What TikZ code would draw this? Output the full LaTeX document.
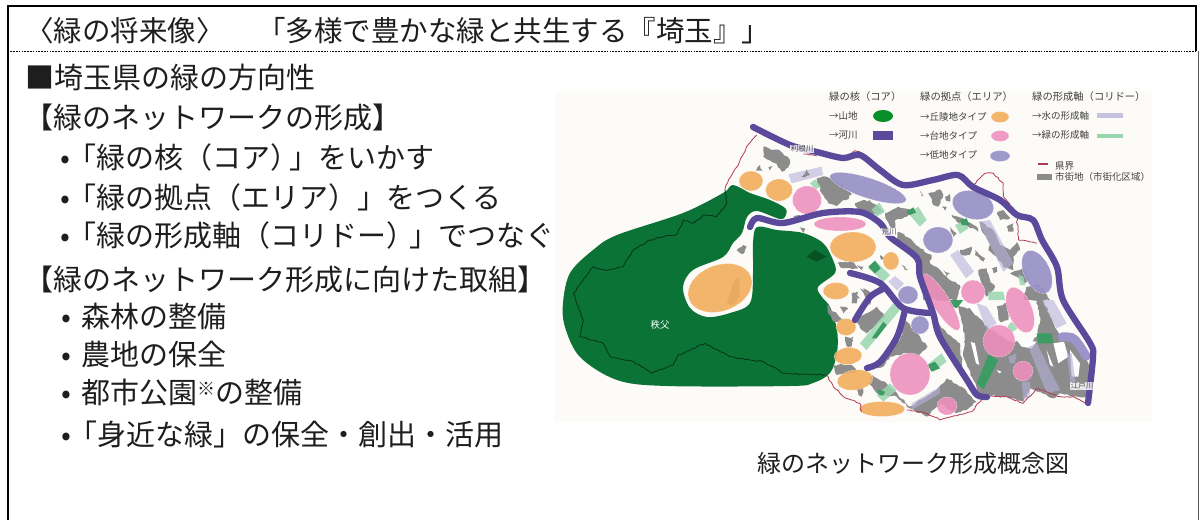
\documentclass[tikz,border=0pt]{standalone}
\usepackage{fontspec}
\usetikzlibrary{decorations.pathmorphing}
\setmainfont{Noto Sans CJK JP}
\definecolor{ink}{HTML}{1E1E1E}
\definecolor{forest}{HTML}{0B7335}
\definecolor{urban}{HTML}{8C8C8C}
\definecolor{riverc}{HTML}{5B4A9C}
\definecolor{orangea}{HTML}{F2AE5C}
\definecolor{pinka}{HTML}{EE8FBE}
\definecolor{lowa}{HTML}{9A94C8}
\definecolor{lav}{HTML}{B4B0DA}
\definecolor{lavs}{HTML}{C6C2E0}
\definecolor{grn}{HTML}{98D6AE}
\definecolor{dgrn}{HTML}{3D9C64}
\definecolor{redl}{HTML}{B23A55}
\definecolor{mapbg}{HTML}{FDFBF8}
\pgfmathsetseed{7}
\newcommand\pg[2]{\fill[#1] plot coordinates {#2} -- cycle;}
\newcommand\el[6]{\path[#1,rotate around={#6:(#2,#3)}] (#2,#3) ellipse [x radius=#4,y radius=#5];}
\tikzset{
  x=1pt,y=-1pt,
  body/.style={anchor=west,inner sep=0pt,text=ink,font=\fontsize{29}{32}\selectfont},
  bodytitle/.style={anchor=west,inner sep=0pt,text=ink,font=\fontsize{28.5}{32}\selectfont},
  captiontext/.style={anchor=center,inner sep=0pt,text=ink,font=\fontsize{24}{28}\selectfont},
  leg/.style={anchor=west,inner sep=0pt,text=ink!85,font=\fontsize{9.5}{11}\selectfont},
  leghead/.style={anchor=west,inner sep=0pt,text=ink!85,font=\fontsize{10.3}{12}\selectfont},
  rivername/.style={anchor=center,inner sep=.5pt,fill=white,fill opacity=.8,text opacity=1,text=ink!80,font=\fontsize{7.5}{8}\selectfont},
  river/.style={draw=riverc,line width=6.3pt,line cap=round,line join=round},
  wiggly/.style={decorate,decoration={random steps,segment length=3pt,amplitude=.7pt}},
  bord/.style={draw=redl,line width=.8pt,line join=round,wiggly},
  ridge/.style={draw=forest!45!black,line width=.8pt,line join=round,wiggly},
  edge/.style={draw=white,densely dotted,line width=.5pt},
  oarea/.style={fill=orangea,fill opacity=.9,edge},
  parea/.style={fill=pinka,fill opacity=.88,edge},
  larea/.style={fill=lowa,fill opacity=.95,edge},
  ug/.style={fill=urban,decorate,decoration={random steps,segment length=3pt,amplitude=1pt}},
  lv/.style={fill=lav,fill opacity=.6},
  gl/.style={fill=grn,fill opacity=.85},
  gd/.style={fill=dgrn},
  zone/.style={shift={(#1)},scale=.33333}
}
\begin{document}
\begin{tikzpicture}
\useasboundingbox (0,0) rectangle (1199,520);
\fill[white] (0,0) rectangle (1199,520);
% frame
\coordinate (fl) at (7.5,520); \coordinate (tl) at (7.5,6); \coordinate (tr) at (1196,6); \coordinate (mr) at (1196,51); \coordinate (ml) at (7.5,51); \coordinate (br) at (1198,520); \coordinate (mr2) at (1198,51);
\draw[black,line width=2pt] (fl) -- (tl) -- (tr) -- (mr);
\draw[black!65,line width=.8pt] (mr2) -- (br);
\draw[black,line width=1pt,dash pattern=on 1.6pt off 1.2pt] (ml) -- (mr);
% text
\node[bodytitle] (title1) at (25,31) {〈緑の将来像〉};
\node[bodytitle] (title2) at (257,31) {「多様で豊かな緑と共生する『埼玉』」};
\node[body] (t1) at (25,77) {■埼玉県の緑の方向性};
\node[body] (t2) at (24,117) {【緑のネットワークの形成】};
\node[body] (t3) at (65,157) {\makebox[0pt]{•}\hspace{2pt}「緑の核（コア）\hspace{-10pt}」をいかす};
\node[body] (t4) at (65,197) {\makebox[0pt]{•}\hspace{2pt}「緑の拠点（エリア）」をつくる};
\node[body] (t5) at (65,235) {\makebox[0pt]{•}\hspace{2pt}「緑の形成軸（コリドー）\hspace{-6pt}」でつなぐ};
\node[body] (t6) at (24,279) {【緑のネットワーク形成に向けた取組】};
\node[body] (t7) at (66,316) {\makebox[0pt]{•}\hspace{15pt}森林の整備};
\node[body] (t8) at (66,354) {\makebox[0pt]{•}\hspace{15pt}農地の保全};
\node[body] (t9) at (66,392) {\makebox[0pt]{•}\hspace{15pt}都市公園\raisebox{8pt}{\fontsize{18}{18}\selectfont ※}の整備};
\node[body] (t10) at (66,434) {\makebox[0pt]{•}\hspace{2pt}「身近な緑」の保全・創出・活用};
\node[captiontext] (caption) at (913,463) {緑のネットワーク形成概念図};
% map background
\fill[mapbg] (555,91) rectangle (1152,422);
% mountain core
\fill[forest] plot[smooth cycle,tension=.55] coordinates {(733,185)(750,193)(770,200)(785,208)(786,215)(780,219)(757,211)(747,217)(742,233)(733,243)(723,257)(693,270)(683,287)(690,308)(707,317)(730,313)(750,303)(753,273)(753,243)(757,227)(777,230)(803,233)(823,243)(833,260)(835,273)(818,287)(822,297)(830,307)(837,330)(837,353)(830,373)(813,383)(790,386)(667,386)(617,380)(580,357)(565,327)(563,303)(570,273)(593,250)(617,235)(683,213)(723,193)};
\begin{scope}[zone={550,240}]
\pg{forest!70!black}{(770,50)(795,30)(830,50)(800,65)}
\pg{ug}{(560,30)(580,15)(590,20)(578,42)}
\pg{ug}{(530,190)(550,130)(565,112)(570,170)(545,195)}
\pg{ug}{(860,70)(905,65)(925,85)(880,85)}
\pg{ug}{(830,195)(880,240)(850,245)(835,220)}
\pg{ug}{(905,160)(925,155)(920,190)(905,190)}
\pg{ug}{(930,145)(960,160)(960,195)(945,170)}
\pg{ug}{(885,295)(910,290)(905,320)(890,320)}
\pg{ug}{(850,375)(905,375)(920,395)(860,405)}
\pg{ug}{(920,445)(940,445)(935,470)(925,465)}
\end{scope}
% urban upper
\begin{scope}[zone={550,80}]
\pg{ug}{(640,200)(665,210)(690,212)(720,240)(715,262)(695,275)(675,250)(640,230)}
\pg{ug}{(618,272)(630,255)(638,272)}
\pg{ug}{(655,262)(668,258)(660,272)}
\pg{ug}{(800,295)(830,290)(870,310)(905,345)(880,355)(860,378)(835,370)(815,340)}
\pg{ug}{(915,375)(960,360)(960,390)(925,395)}
\pg{ug}{(730,410)(750,405)(745,420)}
\pg{ug}{(750,442)(765,445)(760,458)}
\end{scope}
\begin{scope}[zone={840,170}]
\pg{ug}{(0,50)(35,70)(20,90)(0,85)}
\pg{ug}{(45,100)(75,90)(110,105)(130,125)(100,135)(60,120)}
\pg{ug}{(135,130)(175,110)(215,120)(200,140)(165,150)(165,175)(150,170)(140,150)}
\pg{ug}{(265,70)(300,58)(310,75)(295,110)(280,105)(275,85)}
\pg{ug}{(315,80)(330,72)(330,95)(318,92)}
\pg{ug}{(240,62)(250,75)(245,80)}
\pg{ug}{(305,110)(320,112)(315,122)}
\pg{ug}{(335,135)(375,150)(410,170)(415,185)(385,170)(350,155)}
\pg{ug}{(470,130)(490,120)(510,145)(480,150)}
\pg{ug}{(500,170)(520,160)(520,185)(505,185)}
\pg{ug}{(330,170)(350,190)(340,200)}
\pg{ug}{(420,155)(460,180)(480,225)(510,240)(530,215)(540,240)(520,260)(520,300)(490,290)(470,260)(445,240)(450,225)(430,190)}
\pg{ug}{(360,240)(395,230)(390,255)(365,255)}
\pg{ug}{(405,240)(435,265)(430,275)(405,255)}
\pg{ug}{(415,300)(440,295)(450,330)(465,350)(440,380)(425,340)}
\pg{ug}{(455,295)(470,290)(472,305)(460,310)}
\pg{ug}{(510,310)(550,295)(570,325)(555,340)(530,320)}
\pg{ug}{(175,185)(210,205)(240,235)(275,255)(270,280)(300,300)(330,330)(360,345)(350,390)(250,390)(240,310)(225,270)(195,230)(170,210)}
\pg{ug}{(310,300)(330,310)(320,320)}
\pg{ug}{(120,255)(135,262)(125,270)}
\pg{ug}{(0,275)(40,280)(40,295)(0,290)}
\pg{ug}{(50,285)(70,290)(65,300)}
\pg{ug}{(185,285)(205,298)(195,300)}
\pg{ug}{(70,355)(95,370)(80,380)}
\pg{ug}{(40,365)(60,385)(40,385)}
\pg{ug}{(560,350)(600,345)(630,390)(550,390)}
\end{scope}
\begin{scope}[zone={840,300}]
% large urban mass
\pg{ug}{(355,15)(400,30)(425,60)(445,85)(520,130)(540,120)(560,140)(590,110)(600,70)(595,20)(590,0)(610,0)(640,70)(660,110)(700,100)(730,140)(745,190)(745,290)(700,290)(660,280)(640,295)(570,265)(550,305)(490,290)(420,285)(400,240)(370,170)(375,120)}
\pg{ug}{(470,20)(500,10)(505,60)(480,65)}
\pg{ug}{(290,60)(320,100)(360,130)(370,230)(345,190)(325,150)(305,110)}
\pg{ug}{(195,60)(240,110)(262,140)(235,170)(200,160)(150,170)(130,200)(100,205)(125,170)(180,120)}
\pg{ug}{(95,225)(135,245)(160,270)(210,320)(290,270)(320,235)(365,260)(410,305)(380,330)(350,340)(300,310)(260,350)(210,325)(170,290)(120,285)(85,250)}
\pg{ug}{(0,190)(30,200)(30,210)(0,215)}
\pg{ug}{(0,20)(25,25)(10,40)}
\pg{ug}{(50,60)(110,20)(135,50)(80,100)(65,90)}
\pg{ug}{(15,110)(40,120)(25,145)}
\pg{ug}{(50,265)(70,270)(65,290)}
\pg{white}{(392,125)(405,130)(418,195)(408,190)}
\pg{white}{(530,120)(590,125)(575,145)(545,140)}
\pg{white}{(640,130)(672,125)(685,170)(655,190)}
\pg{white}{(690,150)(720,190)(715,230)(695,230)}
\pg{white}{(375,5)(395,12)(420,50)(405,45)}
\pg{white}{(620,150)(640,200)(630,195)}
\pg{white}{(470,210)(485,215)(478,220)}
% corridors
\pg{lv}{(410,10)(440,20)(470,70)(440,90)}
\pg{lv}{(605,0)(640,0)(680,70)(650,85)}
\pg{lv}{(565,140)(590,130)(660,270)(620,280)}
\pg{lv}{(215,310)(300,260)(300,280)(215,330)}
\pg{lv}{(505,170)(530,160)(525,190)(510,190)}
\pg{lv}{(545,245)(570,245)(570,290)(550,300)}
\pg{lv}{(680,160)(695,160)(710,270)(695,270)}
\pg{gl}{(60,130)(160,10)(180,30)(80,150)}
\pg{gd}{(95,115)(130,65)(140,75)(110,115)}
\pg{gl}{(260,195)(305,160)(320,185)(280,215)}
\pg{gd}{(262,195)(285,185)(300,205)(275,215)}
\pg{gl}{(110,285)(150,250)(170,270)(130,305)}
\pg{gd}{(112,268)(135,275)(130,285)(118,285)}
\pg{gd}{(410,250)(445,165)(475,180)(430,268)}
\pg{gd}{(590,100)(635,100)(640,130)(595,130)}
\pg{gl}{(498,85)(515,65)(532,85)(515,98)}
\pg{gd}{(330,0)(370,0)(350,25)(330,15)}
\end{scope}
\begin{scope}[zone={840,170}]
\pg{lv}{(330,255)(355,240)(402,305)(378,325)}
\pg{lv}{(415,155)(450,150)(520,280)(490,305)}
\pg{lv}{(145,335)(165,318)(192,340)(172,362)}
\pg{gl}{(95,118)(118,98)(135,125)(110,140)}
\pg{gl}{(205,130)(235,110)(260,150)(240,170)}
\pg{gd}{(200,125)(220,112)(228,128)(208,135)}
\pg{gl}{(345,165)(375,150)(385,175)(360,192)}
\pg{gd}{(360,150)(380,145)(388,165)(365,165)}
\pg{gl}{(85,295)(105,272)(150,315)(130,335)}
\pg{gd}{(85,290)(105,272)(122,295)(105,310)}
\pg{gl}{(535,315)(550,320)(555,345)(540,345)}
\pg{gl}{(445,365)(490,365)(495,390)(445,390)}
\end{scope}
\begin{scope}[zone={550,80}]
\pg{lv}{(715,283)(815,260)(820,285)(725,310)}
\pg{ug}{(755,290)(770,268)(780,285)(765,292)}
\pg{gl}{(780,310)(795,298)(812,320)(795,328)}
\end{scope}
% area ellipses
\el{oarea}{751}{181}{12}{10}{0}
\el{oarea}{779}{190}{13.5}{11}{0}
\el{oarea}{853}{247}{23}{15}{0}
\el{oarea}{720}{288}{33}{23}{20}
\el{oarea}{836}{291}{13}{8.5}{0}
\el{oarea}{846}{327}{10}{8.5}{0}
\el{oarea}{848}{356}{14}{8.5}{5}
\el{oarea}{855}{380}{18}{10}{8}
\el{oarea}{882}{409}{23}{7.5}{0}
\el{oarea}{891}{261}{8}{9}{0}
\el{parea}{807}{200}{14.5}{14}{0}
\el{parea}{840}{224}{26}{7}{0}
\el{parea}{941}{302}{33}{8.5}{-58}
\el{parea}{973}{292}{12}{12}{0}
\el{parea}{1020}{310}{24}{12}{-68}
\el{parea}{999}{341}{16}{16}{0}
\el{parea}{1023}{371}{10}{10}{0}
\el{parea}{910}{374}{20}{21}{0}
\el{parea}{947}{406}{10}{9}{0}
\el{larea}{868}{188}{40}{10}{-18}
\el{larea}{973}{205}{21}{14}{-15}
\el{larea}{938}{240}{15}{13}{0}
\el{larea}{1037}{272}{13}{23}{25}
\el{larea}{908}{295}{10}{9}{0}
\el{larea}{920}{325}{9}{9}{0}
\draw[lowa,line width=9pt,line cap=round,line join=round] plot[smooth,tension=.6] coordinates {(1062,337)(1074,339)(1086,356)};
% prefecture border
\begin{scope}[zone={550,240}]
\draw[ridge] plot coordinates {(525,-150)(530,-110)(500,-70)(460,-75)(430,-50)(400,-60)(380,-15)(340,-10)(300,0)(250,30)(220,80)(170,92)(130,80)(100,120)(70,160)(100,240)(90,290)(160,310)(180,350)(250,365)(305,400)(370,375)(385,345)(465,310)(540,350)(640,365)(700,400)(830,405)};
\draw[bord] plot coordinates {(830,405)(850,440)(880,470)(930,490)(935,515)};
\end{scope}
\begin{scope}[zone={550,80}]
\draw[bord] plot coordinates {(525,330)(535,300)(565,255)(590,200)(620,165)};
\draw[bord] plot coordinates {(760,222)(800,228)};
\draw[bord] plot coordinates {(905,218)(915,212)(930,215)};
\end{scope}
\begin{scope}[zone={860,80}]
\draw[bord] plot coordinates {(340,315)(375,280)(400,280)(430,310)(430,350)(470,400)(475,480)(530,490)};
\end{scope}
\begin{scope}[zone={860,240}]
\draw[bord] plot coordinates {(690,495)(660,480)(640,470)(600,470)(530,445)(490,490)(440,470)(370,470)(335,515)(240,540)(200,520)(150,510)(140,510)};
\end{scope}
% rivers
\draw[river] plot[smooth,tension=.5] coordinates {(753,127)(790,145)(817,152)(843,158)(860,155)(880,170)(903,185)(933,180)(958,175)(973,187)(1000,200)(1017,215)(1033,220)(1042,240)(1057,267)(1063,300)(1090,343)(1093,357)(1088,403)};
\draw[river] plot[smooth,tension=.5] coordinates {(750,227)(757,218)(783,223)(823,213)(860,212)(880,223)(890,237)(917,258)(920,277)(933,313)(940,337)(967,380)(977,395)(987,397)};
\draw[river] plot[smooth,tension=.5] coordinates {(850,273)(880,283)(903,308)(930,313)};
\draw[river] plot[smooth,tension=.5] coordinates {(855,320)(870,297)(885,288)};
\draw[river] plot[smooth,tension=.5] coordinates {(867,368)(880,362)(897,337)(905,310)};
% map labels
\node[rivername] (tone) at (802,149) {利根川};
\node[rivername] (ara) at (889,232) {荒川};
\node[rivername] (edo) at (1082,386) {江戸川};
\node[anchor=center,inner sep=0pt,text=white,font=\fontsize{9.5}{10}\selectfont] (chichibu) at (660,325) {秩父};
% legend
\node[leghead] (lg1) at (829,97) {緑の核（コア）};
\node[leghead] (lg2) at (920,97) {緑の拠点（エリア）};
\node[leghead] (lg3) at (1032,97) {緑の形成軸（コリドー）};
\node[leg] (lg4) at (829,116) {→山地};
\node[leg] (lg5) at (829,135) {→河川};
\node[leg] (lg6) at (920,117) {→丘陵地タイプ};
\node[leg] (lg7) at (920,136) {→台地タイプ};
\node[leg] (lg8) at (920,155) {→低地タイプ};
\node[leg] (lg9) at (1032,116) {→水の形成軸};
\node[leg] (lg10) at (1032,135) {→緑の形成軸};
\node[leg] (lg11) at (1055,166) {県界};
\node[leg] (lg12) at (1055,177) {市街地（市街化区域）};
\el{fill=forest!80!green}{883}{116}{10}{6}{0}
\fill[riverc] (873,131) rectangle (893,140);
\el{oarea}{1000}{117}{9}{5.5}{0}
\el{parea}{1000}{136}{9}{5.5}{0}
\el{larea}{1000}{156}{10}{5.5}{0}
\fill[lavs] (1097,113) rectangle (1123,117.5);
\fill[grn] (1097,133.5) rectangle (1123,138);
\fill[redl] (1038,163) rectangle (1048,165);
\fill[urban] (1037,174) rectangle (1052,180);
\end{tikzpicture}
\end{document}
